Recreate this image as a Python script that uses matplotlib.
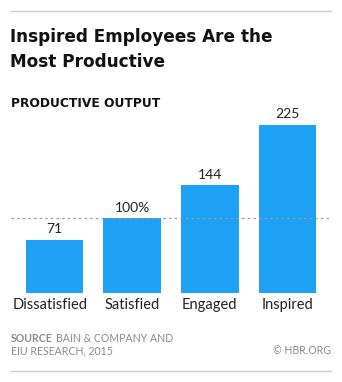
import matplotlib
matplotlib.use("Agg")
import matplotlib.pyplot as plt
from matplotlib.lines import Line2D

categories = ["Dissatisfied", "Satisfied", "Engaged", "Inspired"]
output = [71, 100, 144, 225]
value_labels = ["71", "100%", "144", "225"]
baseline = 100

W, H = 342, 382
BLUE = "#1ea0f5"
GREY = "#8a8a8a"

def fx(px):
    return px / W

def fy(py):
    return 1 - py / H

fig = plt.figure(figsize=(W / 100, H / 100), dpi=100)
fig.patch.set_facecolor("white")

# bar area
ax = fig.add_axes([fx(15.9), fy(292.7), fx(310.2), 179.2 / H])
x = range(len(categories))
ax.bar(x, output, width=0.742, color=BLUE, zorder=2)
ax.set_xlim(-0.5, 3.5)
ax.set_ylim(0, 240)
ax.axis("off")

ax.axhline(baseline, xmin=-0.016, xmax=1.016, color="#9a9a9a", lw=0.9,
           linestyle=(0, (2, 2.5)), clip_on=False, zorder=3)

for i, (v, lab) in enumerate(zip(output, value_labels)):
    ax.annotate(lab, (i, v), xytext=(0, 4.5 * 0.72), textcoords="offset points",
                ha="center", va="bottom", fontsize=10, family="Lato", color="#222222")
    # first label is wider than its bar, nudge it toward the margin
    dx = -3 if i == 0 else 0
    ax.annotate(categories[i], (i, 0), xytext=(dx, -16.6 * 0.72), textcoords="offset points",
                ha="center", va="baseline", fontsize=10.5, family="Lato", color="#222222")

# rules top and bottom
fig.add_artist(Line2D([fx(11), fx(331)], [fy(11), fy(11)], color="#cccccc", lw=1))
fig.add_artist(Line2D([fx(11), fx(331)], [fy(370.7), fy(370.7)], color="#cccccc", lw=1))

title_kw = dict(fontsize=12.2, fontweight="bold", family="DejaVu Sans",
                color="#111111", va="baseline")
fig.text(fx(10), fy(41.7), "Inspired Employees Are the", **title_kw)
fig.text(fx(10), fy(66.7), "Most Productive", **title_kw)
fig.text(fx(11), fy(107.3), "PRODUCTIVE OUTPUT", fontsize=8.8,
         fontweight="bold", family="DejaVu Sans", color="#111111", va="baseline")

src_kw = dict(fontsize=7.6, family="Lato", color=GREY, va="baseline")
fig.text(fx(11), fy(341.7), "SOURCE", fontweight="bold", **src_kw)
fig.text(fx(56), fy(341.7), "BAIN & COMPANY AND", **src_kw)
fig.text(fx(11), fy(354), "EIU RESEARCH, 2015", **src_kw)
fig.text(fx(331), fy(354), "© HBR.ORG", ha="right", **src_kw)

fig.savefig("out.png", dpi=100, facecolor="white")
